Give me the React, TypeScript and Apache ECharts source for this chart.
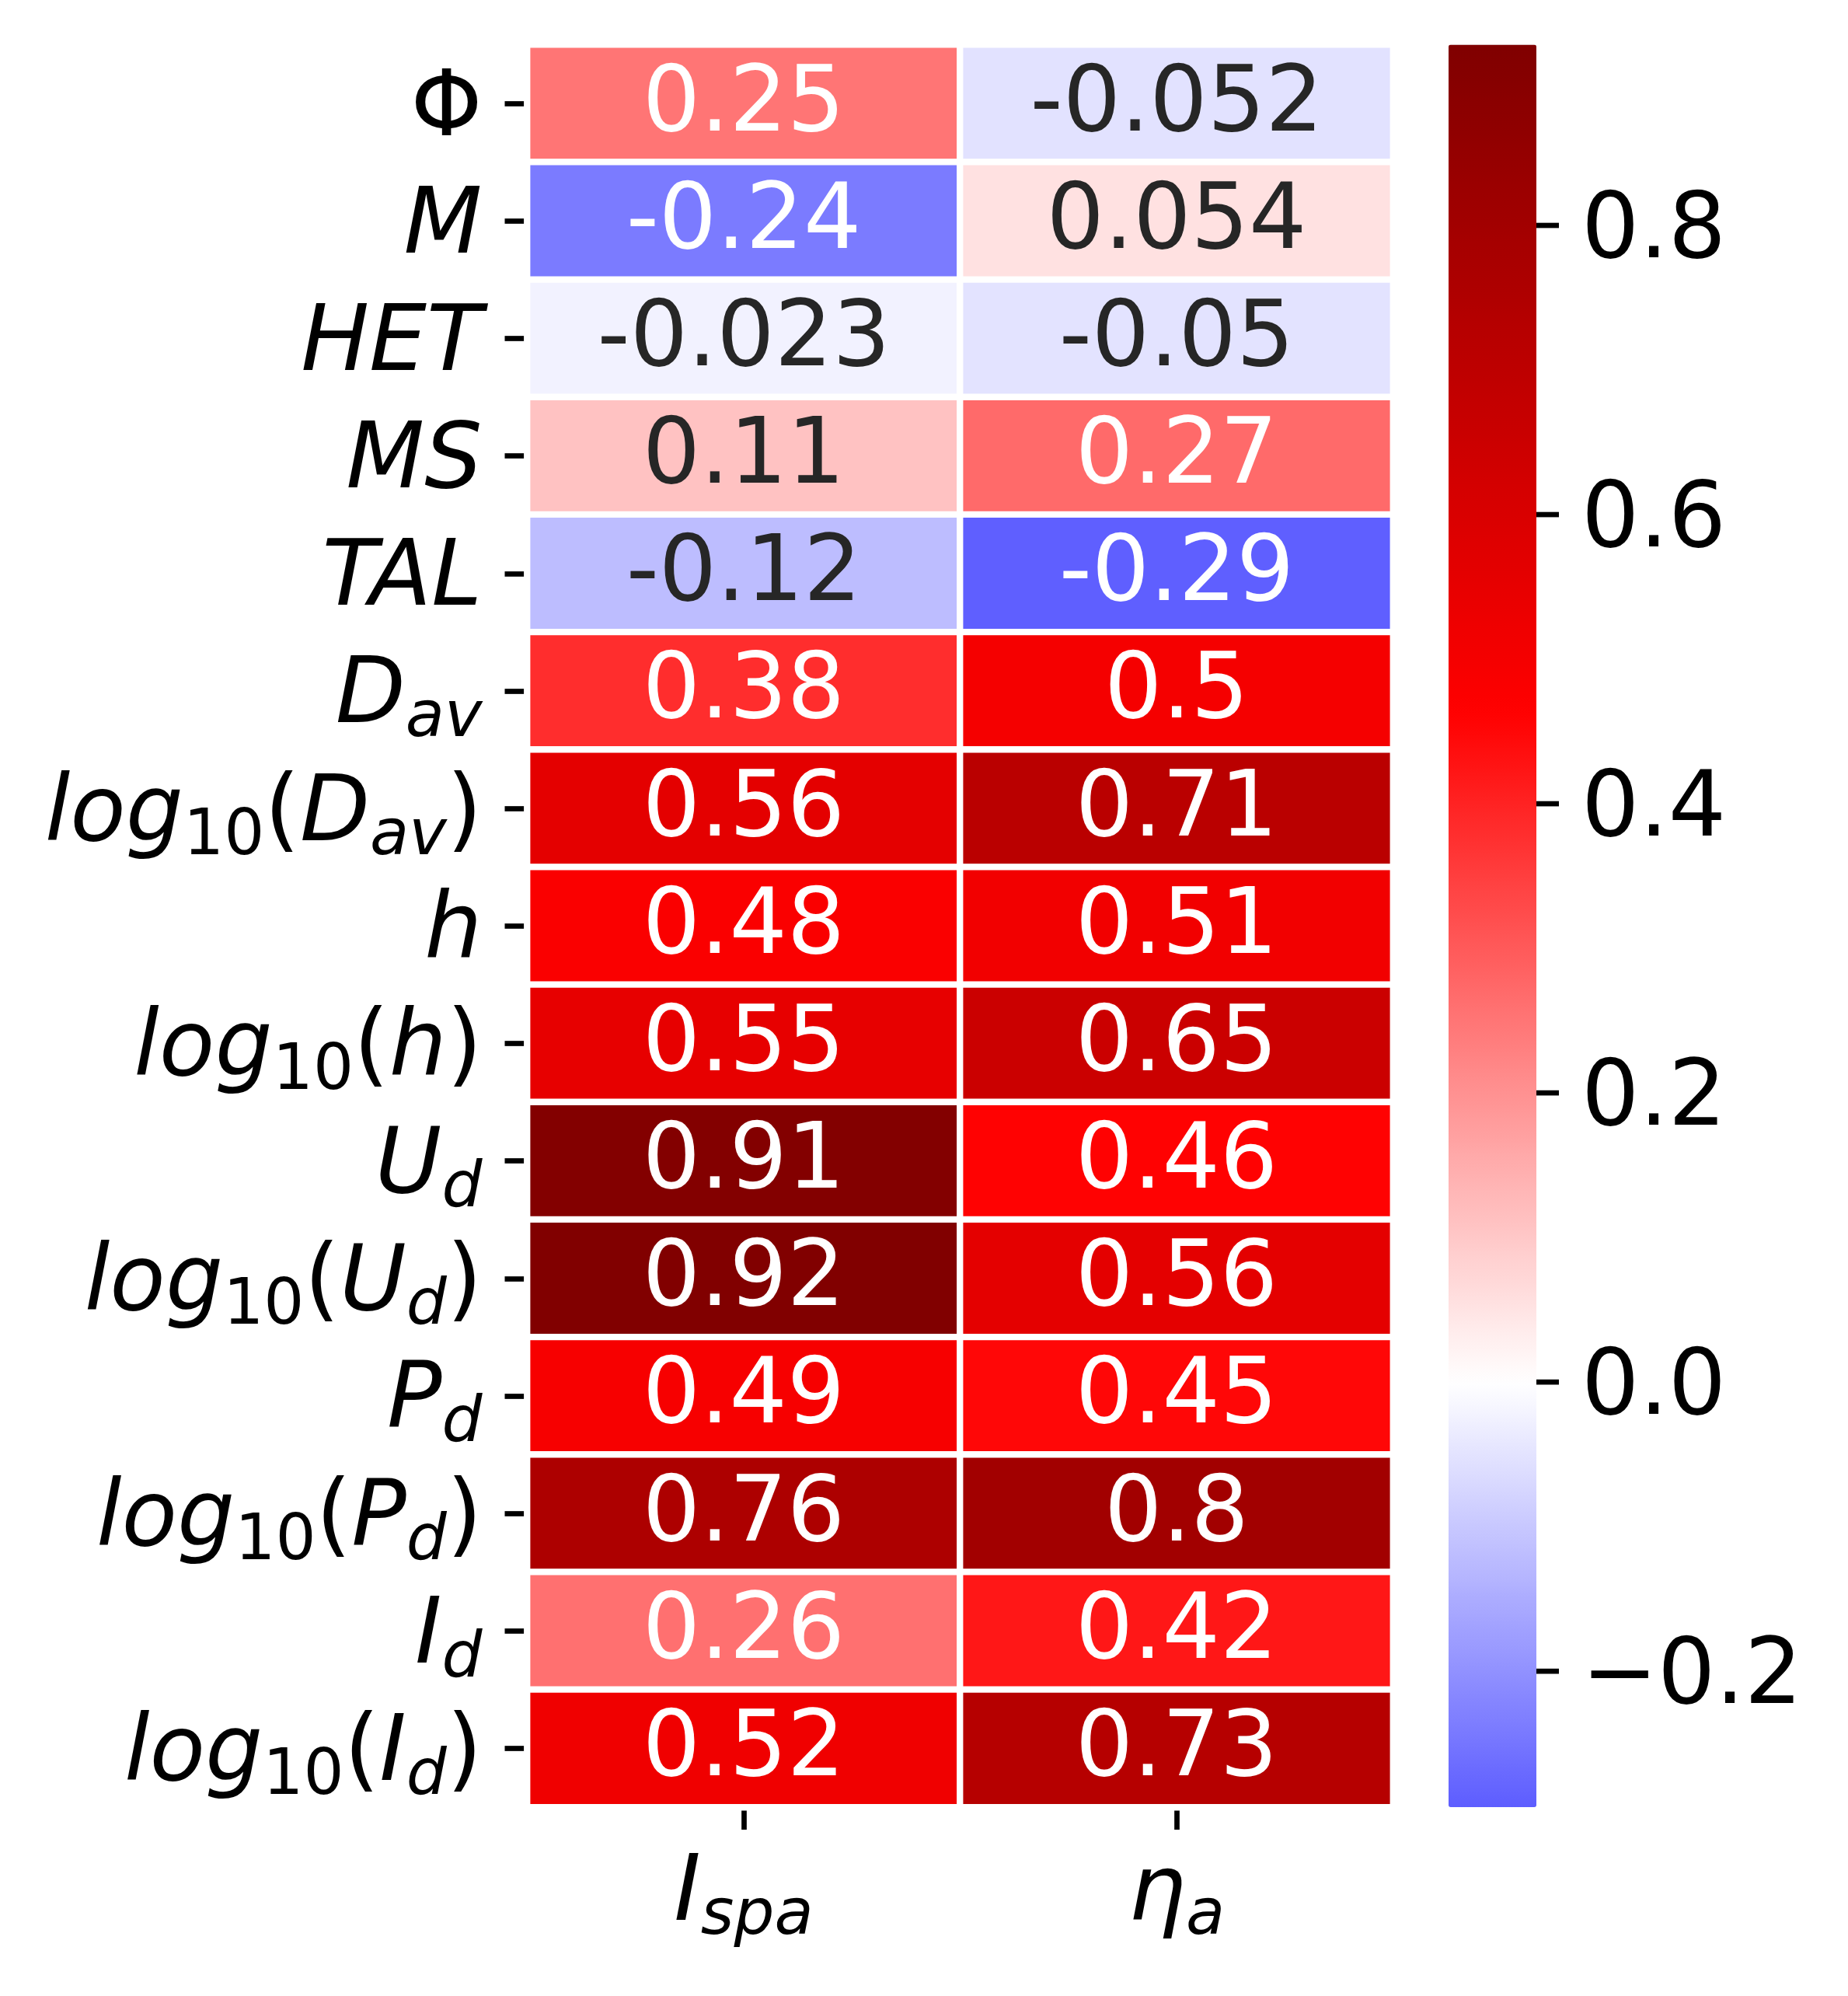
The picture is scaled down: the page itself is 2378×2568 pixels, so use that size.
import React, { useEffect, useRef } from 'react';
import * as echarts from 'echarts';

// ---------- data ----------
const ROW_LABELS = ['Φ', 'M', 'HET', 'MS', 'TAL', 'D_av', 'log10(D_av)', 'h', 'log10(h)', 'U_d', 'log10(U_d)', 'P_d', 'log10(P_d)', 'I_d', 'log10(I_d)'];
const COL_LABELS = ['I_spa', 'η_a'];
const I_SPA = [0.25, -0.24, -0.023, 0.11, -0.12, 0.38, 0.56, 0.48, 0.55, 0.91, 0.92, 0.49, 0.76, 0.26, 0.52];
const ETA_A = [-0.052, 0.054, -0.05, 0.27, -0.29, 0.5, 0.71, 0.51, 0.65, 0.46, 0.56, 0.45, 0.8, 0.42, 0.73];
const CBAR_MIN = -0.294;
const CBAR_MAX = 0.925;
const CBAR_TICKS = [-0.2, 0, 0.2, 0.4, 0.6, 0.8];

// ---------- styling ----------
const FONT = 'DejaVu Sans';
const F = 117;
const FS = 82;
const LH = 150;
const SUBP = 60;
const TICK_LEN = 29;
const TICK_W = 6.7;

const SEISMIC: [number, number[]][] = [
  [0, [0, 0, 0.3]],
  [0.25, [0, 0, 1]],
  [0.5, [1, 1, 1]],
  [0.75, [1, 0, 0]],
  [1, [0.5, 0, 0]],
];
function seismic(t: number): number[] {
  t = Math.max(0, Math.min(1, t));
  for (let i = 0; i < SEISMIC.length - 1; i++) {
    const [t0, c0] = SEISMIC[i];
    const [t1, c1] = SEISMIC[i + 1];
    if (t <= t1) {
      const f = (t - t0) / (t1 - t0);
      return c0.map((c, k) => c + (c1[k] - c) * f);
    }
  }
  return SEISMIC[SEISMIC.length - 1][1];
}
function rgbFor(v: number): number[] {
  const vr = Math.max(CBAR_MAX, -CBAR_MIN);
  return seismic((v + vr) / (2 * vr));
}
function toHex(c: number[]): string {
  return '#' + c.map((x) => Math.round(x * 255).toString(16).padStart(2, '0')).join('');
}
function textColorFor(v: number): string {
  const lin = rgbFor(v).map((c) => (c <= 0.03928 ? c / 12.92 : Math.pow((c + 0.055) / 1.055, 2.4)));
  const lum = 0.2126 * lin[0] + 0.7152 * lin[1] + 0.0722 * lin[2];
  return lum > 0.408 ? '#262626' : '#ffffff';
}
const CMAP = Array.from({ length: 121 }, (_, k) => toHex(rgbFor(CBAR_MIN + ((CBAR_MAX - CBAR_MIN) * k) / 120)));

function sym(s: string): string {
  if (s === 'Φ') return '{r|Φ}';
  const parts = s.split('_');
  if (parts.length === 2) return `{i|${parts[0]}}{s|${parts[1]}}`;
  return `{i|${s}}`;
}
function toRich(s: string): string {
  const m = s.match(/^log10\((.*)\)$/);
  if (m) return `{i|log}{n|10}{r|(}${sym(m[1])}{r|)}`;
  return sym(s);
}

const RICH = {
  i: { fontFamily: FONT, fontSize: F, fontStyle: 'italic', lineHeight: LH, color: '#000' },
  r: { fontFamily: FONT, fontSize: F, lineHeight: LH, color: '#000' },
  s: { fontFamily: FONT, fontSize: FS, fontStyle: 'italic', lineHeight: LH, padding: [SUBP, 0, 0, 0], color: '#000' },
  n: { fontFamily: FONT, fontSize: FS, lineHeight: LH, padding: [SUBP, 0, 0, 0], color: '#000' },
};

const GRID = { left: 678.5, top: 57.5, width: 1114, height: 2267.5 };
const CBAR = { left: 1864, top: 57.5, width: 113, height: 2267.5 };

export default function App() {
  const ref = useRef<HTMLDivElement>(null);
  useEffect(() => {
    if (!ref.current) return;
    const chart = echarts.init(ref.current, undefined, { renderer: 'svg' });
    const cols = [I_SPA, ETA_A];
    const data: any[] = [];
    cols.forEach((arr, c) => {
      arr.forEach((v, r) => {
        data.push({ value: [c, r, v], label: { color: textColorFor(v) } });
      });
    });
    chart.setOption({
      animation: false,
      backgroundColor: '#ffffff',
      grid: [
        { ...GRID, containLabel: false, outerBoundsMode: 'none' },
        { ...CBAR, containLabel: false, outerBoundsMode: 'none' },
      ],
      xAxis: [
        {
          type: 'category',
          gridIndex: 0,
          data: COL_LABELS,
          position: 'bottom',
          axisLine: { show: false },
          splitLine: { show: false },
          axisTick: { show: true, alignWithLabel: true, interval: 0, length: TICK_LEN, lineStyle: { width: TICK_W, color: '#000' } },
          axisLabel: { interval: 0, hideOverlap: false, margin: 29, formatter: (v: string) => toRich(v), rich: RICH, fontFamily: FONT, fontSize: F, color: '#000' },
        },
        { type: 'value', gridIndex: 1, show: false, min: 0, max: 1 },
      ],
      yAxis: [
        {
          type: 'category',
          gridIndex: 0,
          data: ROW_LABELS,
          inverse: true,
          axisLine: { show: false },
          splitLine: { show: false },
          axisTick: { show: true, alignWithLabel: true, interval: 0, length: TICK_LEN, lineStyle: { width: TICK_W, color: '#000' } },
          axisLabel: { interval: 0, hideOverlap: false, margin: 58, formatter: (v: string) => toRich(v), rich: RICH, fontFamily: FONT, fontSize: F, color: '#000' },
        },
        {
          type: 'value',
          gridIndex: 1,
          position: 'right',
          min: CBAR_MIN,
          max: CBAR_MAX,
          axisLine: { show: false, onZero: false },
          splitLine: { show: false },
          axisTick: { show: false },
          axisLabel: {
            customValues: CBAR_TICKS,
            margin: 58,
            fontFamily: FONT,
            fontSize: F,
            color: '#000',
            formatter: (v: number) => (v < -1e-9 ? '\u2212' : '') + Math.abs(v).toFixed(1),
          },
        },
      ],
      visualMap: {
        type: 'continuous',
        seriesIndex: 0,
        min: CBAR_MIN,
        max: CBAR_MAX,
        orient: 'vertical',
        left: CBAR.left,
        top: CBAR.top,
        itemWidth: CBAR.width,
        itemHeight: CBAR.height,
        padding: 0,
        calculable: false,
        hoverLink: false,
        showLabel: false,
        inRange: { color: CMAP },
      },
      series: [
        {
          type: 'heatmap',
          xAxisIndex: 0,
          yAxisIndex: 0,
          data,
          itemStyle: { borderColor: '#ffffff', borderWidth: 8.3 },
          emphasis: { disabled: true },
          label: {
            show: true,
            fontFamily: FONT,
            fontSize: F,
            offset: [0, -6],
            formatter: (p: any) => String(p.value[2]),
          },
        },
        {
          type: 'custom',
          xAxisIndex: 1,
          yAxisIndex: 1,
          clip: false,
          silent: true,
          data: CBAR_TICKS.map((v) => [1, v]),
          renderItem: (params: any, api: any) => {
            const p = api.coord([api.value(0), api.value(1)]);
            return {
              type: 'line',
              shape: { x1: p[0], y1: p[1], x2: p[0] + TICK_LEN, y2: p[1] },
              style: { stroke: '#000', lineWidth: TICK_W },
            };
          },
        },
      ],
    });
    return () => chart.dispose();
  }, []);
  return <div ref={ref} style={{ position: 'fixed', left: 0, top: 0, width: 2378, height: 2568 }} />;
}
